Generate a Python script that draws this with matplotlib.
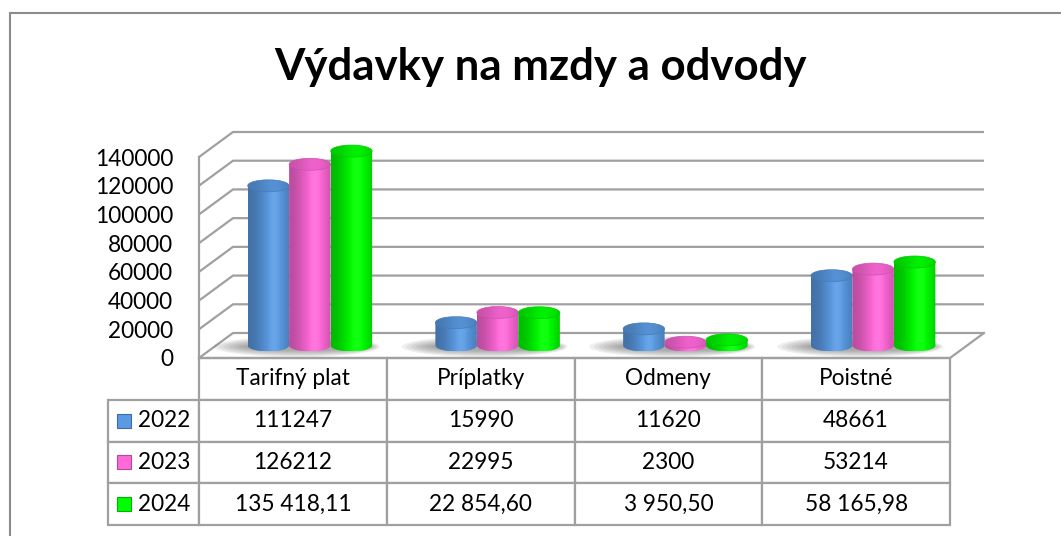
import numpy as np
import matplotlib
matplotlib.use("Agg")
import matplotlib.pyplot as plt
from matplotlib.patches import Polygon, Ellipse, Rectangle
from matplotlib.table import Table
from matplotlib.colors import to_rgb

plt.rcParams['font.family'] = ['Lato', 'DejaVu Sans']

# data
title = "Výdavky na mzdy a odvody"
categories = ["Tarifný plat", "Príplatky", "Odmeny", "Poistné"]
years = ["2022", "2023", "2024"]
v2022 = [111247, 15990, 11620, 48661]
v2023 = [126212, 22995, 2300, 53214]
v2024 = [135418.11, 22854.60, 3950.50, 58165.98]
txt2022 = ["111247", "15990", "11620", "48661"]
txt2023 = ["126212", "22995", "2300", "53214"]
txt2024 = ["135 418,11", "22 854,60", "3 950,50", "58 165,98"]
yticks = [0, 20000, 40000, 60000, 80000, 100000, 120000, 140000]

series = [v2022, v2023, v2024]
texts = [txt2022, txt2023, txt2024]
colors = ["#5A9AE2", "#FF68D8", "#00FF00"]
grid_c = "#A0A0A0"

# layout (pixels)
W, H = 1061, 536
cat_px = 187.75           # width of one category on the front plane
unit_px = 201 / 140000    # pixels per value unit
x_left, y_zero = 199, 358
xmax, ymax = 4.25, 160000

fig = plt.figure(figsize=(W / 100, H / 100), dpi=100)
ax_w = xmax * cat_px
ax_h = ymax * unit_px
ax = fig.add_axes([x_left / W, (H - y_zero) / H, ax_w / W, ax_h / H])
ax.patch.set_visible(False)
for s in ax.spines.values():
    s.set_visible(False)
ax.set_xticks([])
ax.set_yticks(yticks)
ax.set_yticklabels([str(t) for t in yticks])
ax.tick_params(axis='y', length=0, pad=18.5, labelsize=16.3)

# depth of the 3d box
ddx = 34 / cat_px
ddy = 25 / unit_px

# walls / grid
for v in yticks:
    ax.plot([0, ddx, 4 + ddx], [v, v + ddy, v + ddy], color=grid_c, lw=1.6,
            clip_on=False, zorder=1, solid_capstyle='butt')
ax.plot([0, 0], [0, yticks[-1]], color=grid_c, lw=1.6, clip_on=False, zorder=1)
ax.plot([4, 4 + ddx], [0, ddy], color=grid_c, lw=1.6, clip_on=False, zorder=1)
ax.plot([0, 4], [0, 0], color=grid_c, lw=1.6, clip_on=False, zorder=1)


def shade(color, lo=0.72, amp=0.30, n=64):
    base = np.array(to_rgb(color))
    u = np.linspace(0, 1, n)
    f = lo + amp * np.exp(-((u - 0.62) / 0.36) ** 2)
    out = np.clip(base[None, :] * f[:, None], 0, 1)
    hi = np.clip(f - 0.97, 0, None)[:, None] * 1.5
    return np.clip(out + (1 - out) * hi, 0, 1)


w = 41.5 / cat_px
ry = 6 / unit_px
base = ddy / 2

# soft shadows under each group
for i in range(len(categories)):
    gc = i + 0.5 + ddx / 2
    for k in range(7):
        ax.add_patch(Ellipse((gc - 0.07 + k * 0.008, base - ry * 0.2),
                             3 * w + 0.22 - k * 0.035, ry * 3.4 - k * ry * 0.35,
                             color='#505050', alpha=0.09, lw=0, zorder=2))

t = np.linspace(np.pi, 2 * np.pi, 40)
tc = np.linspace(0, 2 * np.pi, 80)
for i in range(len(categories)):
    for j, vals in enumerate(series):
        v = vals[i]
        xc = i + 0.5 + ddx / 2 + (j - 1) * w
        xl, xr = xc - w / 2, xc + w / 2
        pts = list(zip(xc + w / 2 * np.cos(t), base + ry * np.sin(t)))
        pts += [(xr, base + v), (xl, base + v)]
        body = Polygon(pts, closed=True, transform=ax.transData)
        im = ax.imshow(shade(colors[j])[None, :, :], extent=[xl, xr, base - ry, base + v + ry],
                       aspect='auto', interpolation='bilinear', zorder=3 + j)
        im.set_clip_path(body)
        cap = Polygon(list(zip(xc + w / 2 * np.cos(tc), base + v + ry * np.sin(tc))),
                      closed=True, transform=ax.transData)
        im2 = ax.imshow(shade(colors[j], lo=0.78, amp=0.16)[None, :, :],
                        extent=[xl, xr, base + v - ry, base + v + ry],
                        aspect='auto', interpolation='bilinear', zorder=3 + j)
        im2.set_clip_path(cap)
        ax.add_patch(Ellipse((xc, base + v), w, 2 * ry, fill=False,
                             edgecolor=np.array(to_rgb(colors[j])) * 0.8, lw=0.5, zorder=3 + j))
ax.set_xlim(0, xmax)
ax.set_ylim(0, ymax)

# data table
tw = 950 - 108
tb = [(108 - x_left) / ax_w, -(525 - y_zero) / ax_h, tw / ax_w, (525 - y_zero) / ax_h]
tbl = Table(ax, bbox=tb)
lab_w, col_w, row_h = 91, cat_px, 42
for k, c in enumerate(categories):
    tbl.add_cell(0, k + 1, col_w, row_h, text=c, loc='center', edgecolor=grid_c)
for r, y in enumerate(years):
    tbl.add_cell(r + 1, 0, lab_w, row_h, text=y, loc='right', edgecolor=grid_c)
    for k in range(len(categories)):
        tbl.add_cell(r + 1, k + 1, col_w, row_h, text=texts[r][k], loc='center', edgecolor=grid_c)
tbl.auto_set_font_size(False)
tbl.set_fontsize(16.3)
for cell in tbl.get_celld().values():
    cell.set_linewidth(1.6)
ax.add_table(tbl)

# legend keys in the table
row_h_ax = tb[3] / 4
for r in range(len(years)):
    yc = tb[1] + (2.5 - r) * row_h_ax
    sq_w, sq_h = 14 / ax_w, 14 / ax_h
    ax.add_patch(Rectangle(((117 - x_left) / ax_w, yc - sq_h / 2), sq_w, sq_h,
                           transform=ax.transAxes, facecolor=colors[r],
                           edgecolor=np.array(to_rgb(colors[r])) * 0.7, lw=0.8, clip_on=False))

# title and outer frame
fig.text(540 / W, 1 - 80 / H, title, ha='center', va='baseline', fontsize=31.5, fontweight='bold')
fig.patches.append(Rectangle((10 / W, -0.1), 1.2, (H - 13) / H + 0.1, transform=fig.transFigure,
                             fill=False, edgecolor='#8C8C8C', lw=1.5))

fig.savefig("out.png", dpi=100)
